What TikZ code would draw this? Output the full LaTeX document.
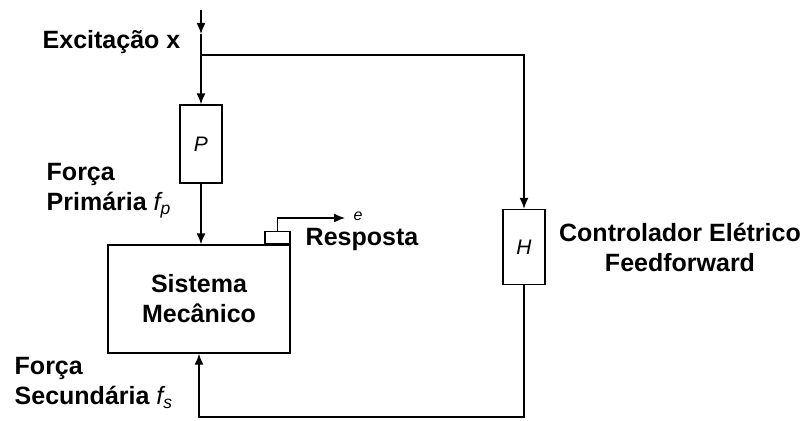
\documentclass[tikz,border=0pt]{standalone}
\usepackage{fontspec}
\setmainfont{Liberation Sans}
\usepackage{tikz}
\usetikzlibrary{arrows.meta, positioning}

\begin{document}
\begin{tikzpicture}[x=1pt, y=-1pt, >={Latex[length=11pt,width=9pt]},
  line width=1.4pt,
  blk/.style={draw, minimum width=42pt, inner sep=0pt,
              font=\fontsize{21}{24}\selectfont\itshape},
  sysbox/.style={draw, minimum width=182pt, minimum height=108pt,
                 align=center, font=\fontsize{25}{30}\selectfont\bfseries},
  sensor/.style={draw, minimum width=25pt, minimum height=12pt, inner sep=0pt},
  lbl/.style={font=\fontsize{25}{30}\selectfont\bfseries, inner sep=0pt}
]
  \useasboundingbox (0,0) rectangle (802,420);

  %% blocks
  \node[blk, minimum height=78pt] (P)   at (201,144) {P};
  \node[blk, minimum height=75pt] (H)   at (524,247) {H};
  \node[sysbox]                   (sys) at (199,299) {Sistema\\Mecânico};
  \node[sensor, anchor=south east] (sen) at (sys.north east) {};

  %% signal points
  \coordinate (src)  at (201,10);
  \coordinate (xin)  at (201,34);
  \coordinate (tap)  at (201,55);
  \coordinate (fs)   at (199,417);
  \coordinate (out)  at (345,218);

  %% labels
  \node[lbl, anchor=east] (exc) at (181,42) {Excitação x};
  \node[lbl, anchor=north west, align=left] (fp) at (46,163)
    {Força\\Primária {\mdseries\itshape f\textsubscript{p}}};
  \node[lbl, anchor=north west, align=left] (fsl) at (14,357)
    {Força\\Secundária {\mdseries\itshape f\textsubscript{s}}};
  \node[lbl, anchor=north, align=center] (ctl) at (680,222)
    {Controlador Elétrico\\Feedforward};
  \node[lbl, anchor=west] (resp) at (305,239) {Resposta};
  \node[anchor=south west, inner sep=0pt,
        font=\fontsize{16}{16}\selectfont\itshape] (e) at ([xshift=8pt,yshift=-3pt]out) {e};

  %% excitation into P
  \draw[->] (src) -- (xin);
  \draw[->] (xin) -- (P.north);

  %% feedforward branch to H
  \draw[->] (tap) -| (H.north);

  %% primary force
  \draw[->] (P.south) -- (P.south |- sys.north);

  %% secondary force from H
  \draw[->] (H.south) |- (fs) -- (fs |- sys.south);

  %% response
  \draw[->] (sen.north) |- (out);
\end{tikzpicture}
\end{document}
